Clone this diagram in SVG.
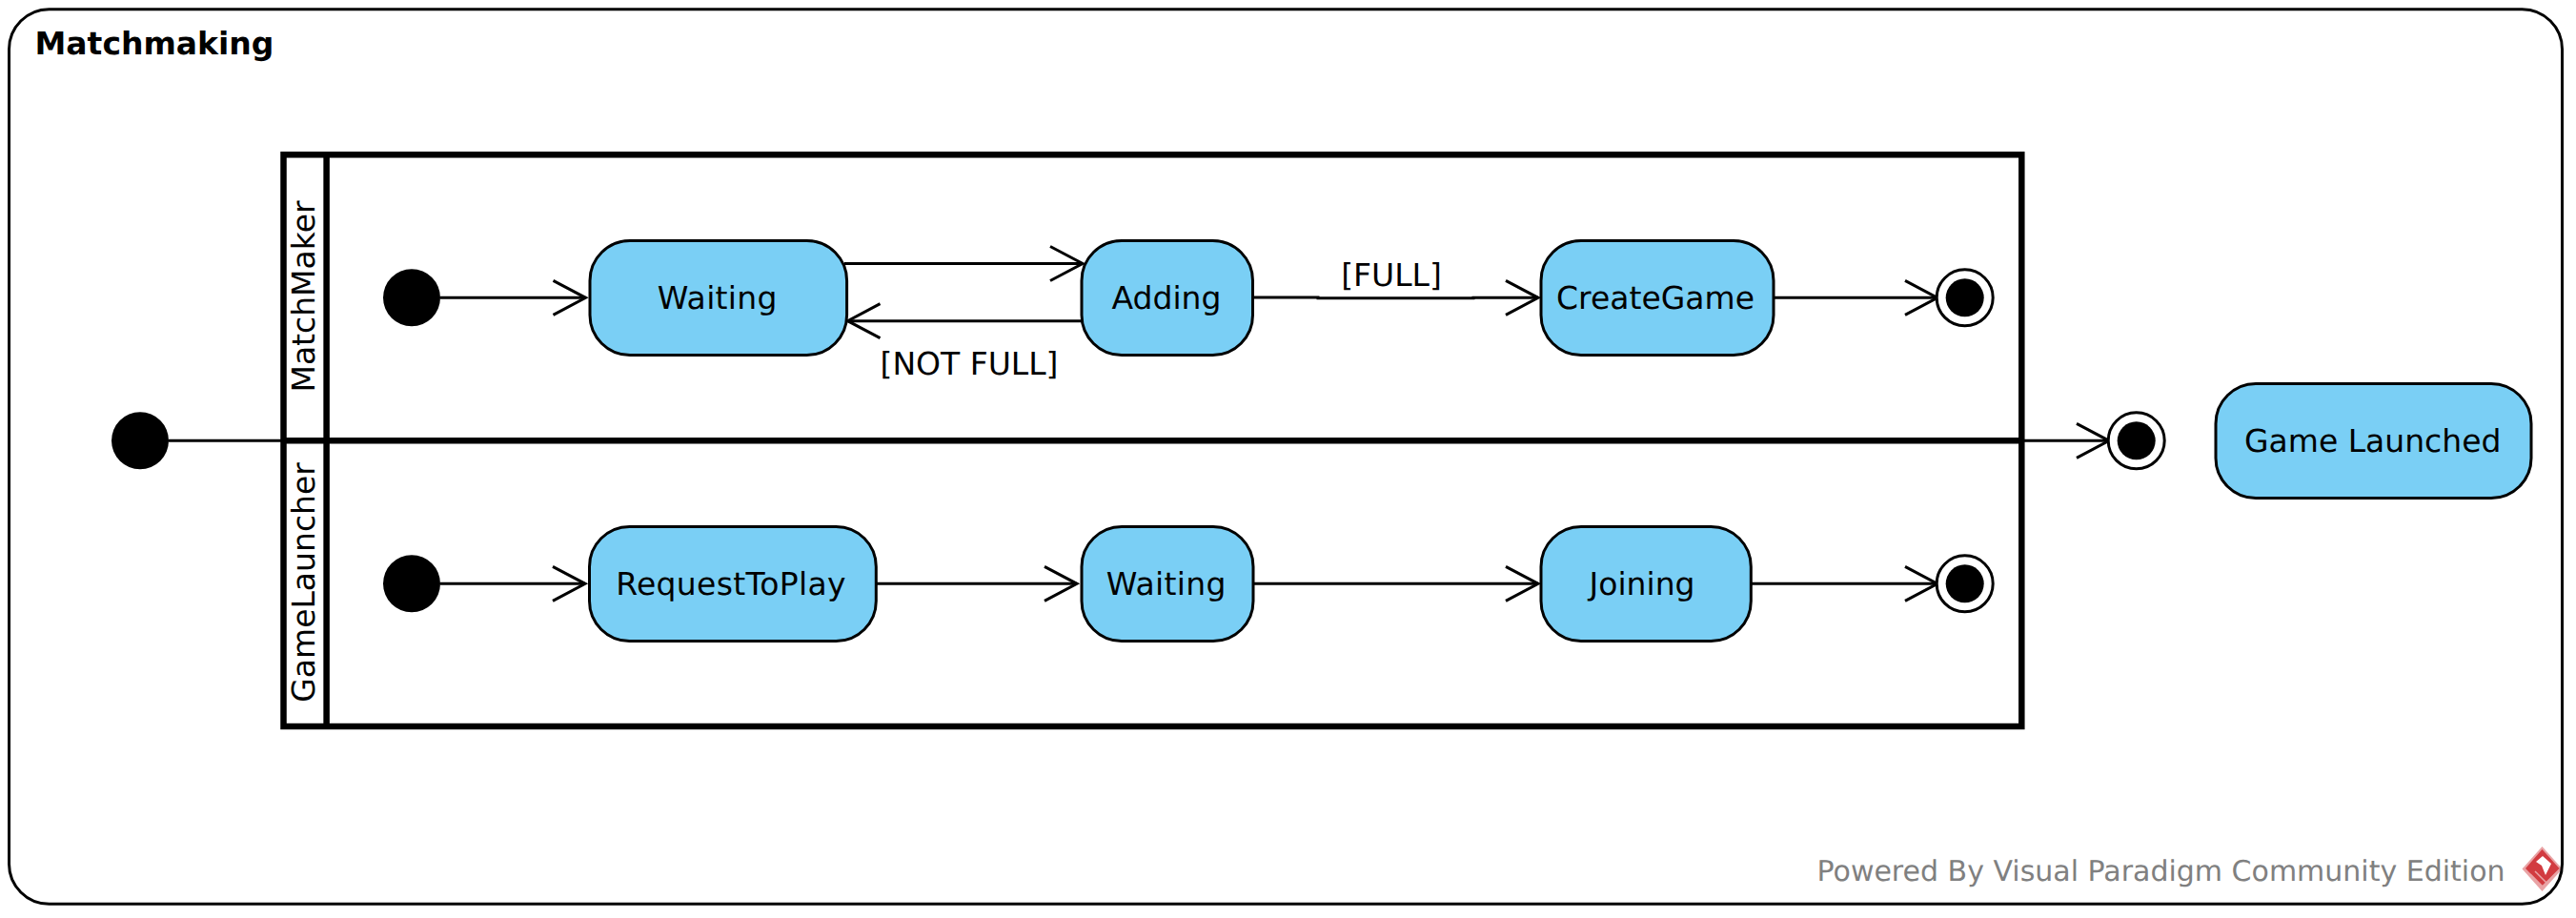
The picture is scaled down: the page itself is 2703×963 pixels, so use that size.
<svg xmlns="http://www.w3.org/2000/svg" width="2703" height="963" viewBox="0 0 2703 963">
<style>
text{font-family:"DejaVu Sans",sans-serif;font-size:33px;fill:#000;text-rendering:geometricPrecision}
.m{text-anchor:middle}
.wide{letter-spacing:.3px}
.state{fill:#7ACFF5;stroke:#000;stroke-width:3}
.conn{fill:none;stroke:#000;stroke-width:3}
.lane{fill:none;stroke:#000;stroke-width:6.500;stroke-linejoin:miter}
.ring{fill:#fff;stroke:#000;stroke-width:3}
</style>
<defs>
<marker id="open" markerUnits="userSpaceOnUse" markerWidth="44" markerHeight="44" refX="38" refY="20" orient="auto" overflow="visible">
<path d="M4 2 L38 20 L4 38" fill="none" stroke="#000" stroke-width="3"/>
</marker>
</defs>
<rect width="2703" height="963" fill="#fff"/>
<g id="watermark">
<text x="1906.500" y="923.500" style="font-size:30px;fill:#808080">Powered By Visual Paradigm Community Edition</text>
<path d="M2667.500 888L2688.500 911.500L2667.500 935L2646.500 911.500Z" fill="#E9A3A5"/>
<path d="M2667.500 891L2685.500 911L2667.500 929L2650 911Z" fill="#D23B40"/>
<path d="M2668 898L2677 906L2671 918L2667 908L2661 904Z" fill="#fff"/>
<path d="M2655 917L2668 930M2660 914L2672 926" fill="none" stroke="#E9A3A5" stroke-width="1.500"/>
</g>
<g id="frame">
<rect x="9.500" y="9.700" width="2679" height="938.600" rx="42" ry="42" fill="none" stroke="#000" stroke-width="3"/>
<text x="36.500" y="57" style="font-weight:700">Matchmaking</text>
</g>
<g id="swimlane">
<rect class="lane" x="297.500" y="162.300" width="1823.800" height="599.700"/>
<path class="lane" d="M342.600 162.300V762M297.500 462.300H2121.300"/>
<text class="m" transform="translate(329.500 311) rotate(-90)">MatchMaker</text>
<text class="m" transform="translate(329.500 611) rotate(-90)">GameLauncher</text>
</g>
<g id="connectors">
<path class="conn" d="M177 462.300H297.500"/>
<path class="conn" marker-end="url(#open)" d="M2121.300 462.300H2213"/>
<path class="conn" marker-end="url(#open)" d="M462 312.300H614.500"/>
<path class="conn" marker-end="url(#open)" d="M886 276.500H1136"/>
<path class="conn" marker-end="url(#open)" d="M1135 336.700H889.500"/>
<path class="conn" marker-end="url(#open)" d="M1314.500 312H1383V312.800H1546V312.300H1614"/>
<path class="conn" marker-end="url(#open)" d="M1861 312.300H2033"/>
<path class="conn" marker-end="url(#open)" d="M462 612.300H614"/>
<path class="conn" marker-end="url(#open)" d="M919.300 612.300H1130"/>
<path class="conn" marker-end="url(#open)" d="M1315 612.300H1614"/>
<path class="conn" marker-end="url(#open)" d="M1837.300 612.300H2033"/>
<text class="m" x="1017" y="393">[NOT FULL]</text>
<text class="m" x="1460" y="300">[FULL]</text>
</g>
<g id="initial-outer"><circle cx="147" cy="462.300" r="30"/></g>
<g id="initial-matchmaker"><circle cx="432" cy="312.300" r="30"/></g>
<g id="initial-gamelauncher"><circle cx="432" cy="612.300" r="30"/></g>
<g id="state-waiting-1"><rect class="state" x="619" y="252.500" width="269.600" height="120" rx="42"/><text class="m wide" x="752.800" y="323.500">Waiting</text></g>
<g id="state-adding"><rect class="state" x="1135" y="252.500" width="179.500" height="120" rx="42"/><text class="m" x="1224" y="323.500">Adding</text></g>
<g id="state-creategame"><rect class="state" x="1617" y="252.500" width="244" height="120" rx="42"/><text class="m" x="1737" y="323.500">CreateGame</text></g>
<g id="state-requesttoplay"><rect class="state" x="618.500" y="552.500" width="300.800" height="120" rx="42"/><text class="m wide" x="767" y="623.500">RequestToPlay</text></g>
<g id="state-waiting-2"><rect class="state" x="1135" y="552.500" width="180" height="120" rx="42"/><text class="m wide" x="1223.700" y="623.500">Waiting</text></g>
<g id="state-joining"><rect class="state" x="1617" y="552.500" width="220.300" height="120" rx="42"/><text class="m" x="1723" y="623.500">Joining</text></g>
<g id="state-game-launched"><rect class="state" x="2325" y="402.500" width="331" height="120" rx="42"/><text class="m" x="2489.700" y="474">Game Launched</text></g>
<g id="final-matchmaker"><circle class="ring" cx="2061.700" cy="312.300" r="29.500"/><circle cx="2061.700" cy="312.300" r="20"/></g>
<g id="final-gamelauncher"><circle class="ring" cx="2061.700" cy="612.300" r="29.500"/><circle cx="2061.700" cy="612.300" r="20"/></g>
<g id="final-outer"><circle class="ring" cx="2241.700" cy="462.300" r="29.500"/><circle cx="2241.700" cy="462.300" r="20"/></g>
</svg>
